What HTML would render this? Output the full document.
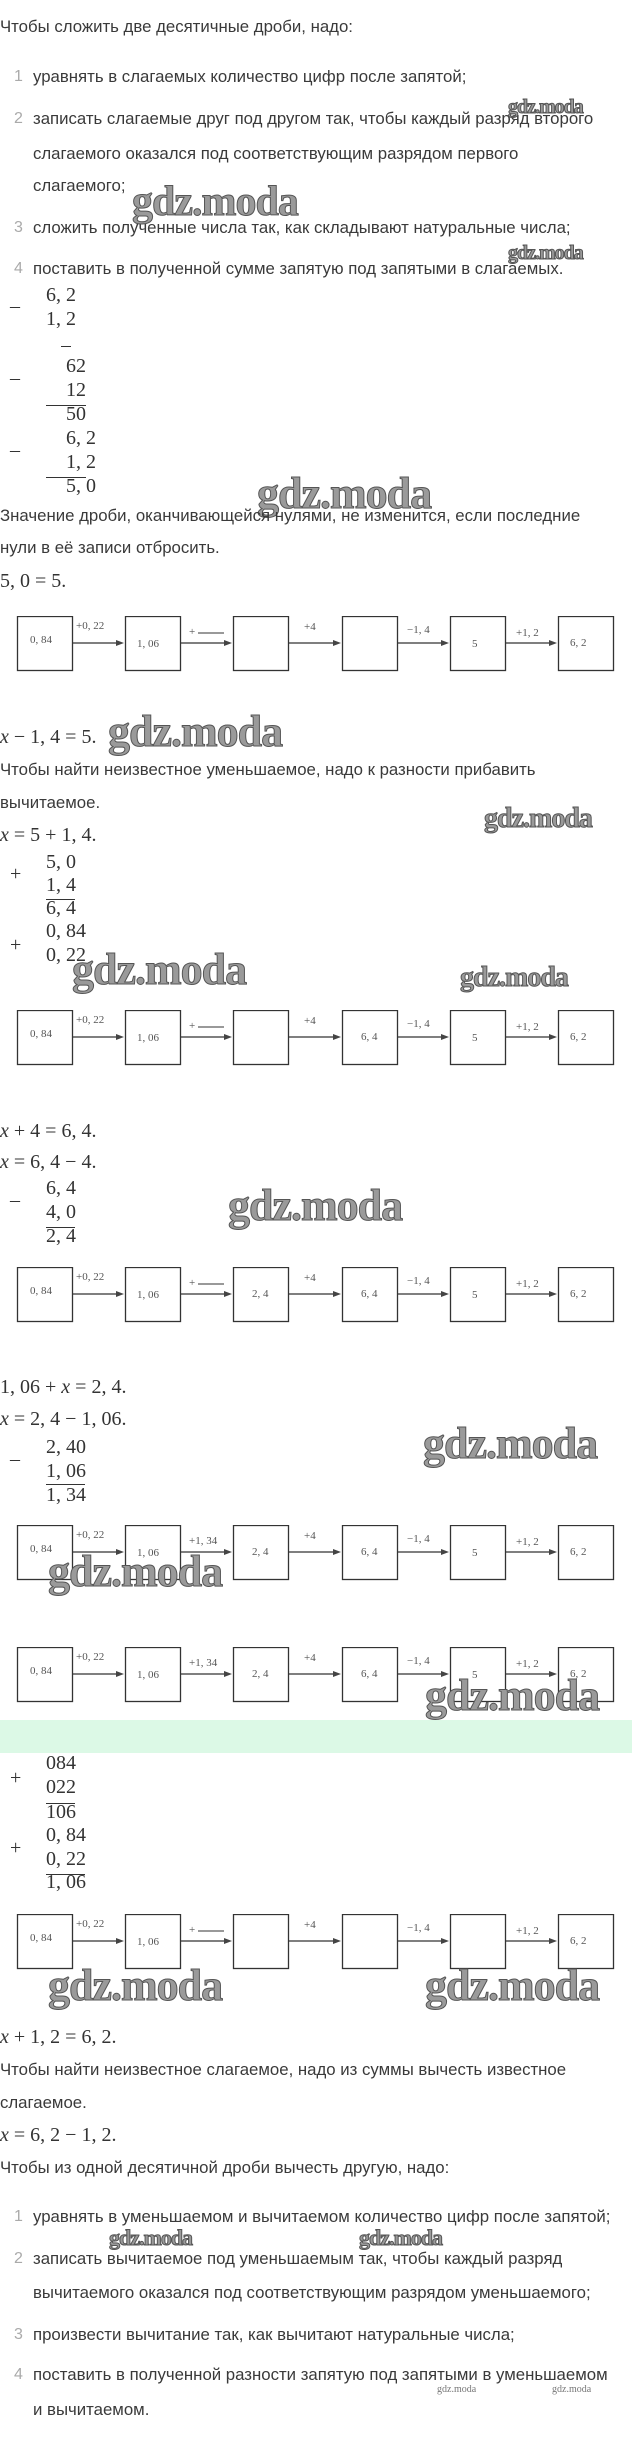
<!DOCTYPE html>
<html><head><meta charset="utf-8"><style>
body{margin:0;width:632px;height:2460px;background:#fff;position:relative;overflow:hidden;font-family:"Liberation Sans","DejaVu Sans",sans-serif;color:#3a3a3a}
.t{position:absolute;left:0;font-size:16.8px;line-height:20px;white-space:nowrap}
.li{position:absolute;left:33px;font-size:16.8px;line-height:20px;white-space:nowrap}
.n{position:absolute;left:14px;font-size:16px;line-height:20px;color:#aaa}
.m{position:absolute;font-family:"Liberation Serif",serif;font-size:20px;line-height:20px;white-space:nowrap;color:#333}
.ml{position:absolute;left:46px;height:0;border-top:1.3px solid #333}
.wm{position:absolute;font-family:"Liberation Serif",serif;font-weight:bold;color:#9a9a9a;-webkit-text-stroke:1px #555;white-space:nowrap;letter-spacing:-1px}
svg{position:absolute;left:0}
svg text{font-family:"Liberation Serif",serif;font-size:11px;fill:#555}
</style></head><body>
<div class="t" style="top:17px">Чтобы сложить две десятичные дроби, надо:</div>
<div class="n" style="top:67px">1</div><div class="li" style="top:67px">уравнять в слагаемых количество цифр после запятой;</div>
<div class="n" style="top:109px">2</div><div class="li" style="top:109px">записать слагаемые друг под другом так, чтобы каждый разряд второго</div>
<div class="li" style="top:144px">слагаемого оказался под соответствующим разрядом первого</div>
<div class="li" style="top:176px">слагаемого;</div>
<div class="n" style="top:218px">3</div><div class="li" style="top:218px">сложить полученные числа так, как складывают натуральные числа;</div>
<div class="n" style="top:259px">4</div><div class="li" style="top:259px">поставить в полученной сумме запятую под запятыми в слагаемых.</div>
<div class="wm" style="left:508px;top:96px;font-size:20px">gdz.moda</div>
<div class="wm" style="left:508px;top:242px;font-size:20px">gdz.moda</div>
<div class="wm" style="left:132px;top:178px;font-size:42px">gdz.moda</div>

<div class="m" style="left:10px;top:296px">–</div>
<div class="m" style="left:46px;top:285px">6, 2</div>
<div class="m" style="left:46px;top:309px">1, 2</div>
<div class="ml" style="left:61px;width:10px;top:346px"></div>
<div class="m" style="left:10px;top:368px">–</div>
<div class="m" style="left:66px;top:356px">62</div>
<div class="m" style="left:66px;top:380px">12</div>
<div class="ml" style="width:40px;top:405px"></div>
<div class="m" style="left:66px;top:404px">50</div>
<div class="m" style="left:10px;top:440px">–</div>
<div class="m" style="left:66px;top:428px">6, 2</div>
<div class="m" style="left:66px;top:452px">1, 2</div>
<div class="ml" style="width:40px;top:477px"></div>
<div class="m" style="left:66px;top:476px">5, 0</div>
<div class="wm" style="left:257px;top:468px;font-size:44px">gdz.moda</div>
<div class="t" style="top:506px">Значение дроби, оканчивающейся нулями, не изменится, если последние</div>
<div class="t" style="top:538px">нули в её записи отбросить.</div>
<div class="m" style="left:0;top:571px">5, 0 = 5.</div>

<!-- row 1 -->
<svg style="top:616px" width="632" height="56">
<g fill="none" stroke="#333" stroke-width="1.3"><rect x="17.5" y="0.5" width="55" height="54"/><rect x="125.5" y="0.5" width="55" height="54"/><rect x="233.5" y="0.5" width="55" height="54"/><rect x="342.5" y="0.5" width="55" height="54"/><rect x="450.5" y="0.5" width="55" height="54"/><rect x="558.5" y="0.5" width="55" height="54"/>
<path d="M73,27H120M181,27H228M289,27H337M398,27H445M506,27H553"/><path d="M198,17H224" stroke-width="1"/></g>
<path d="M116,24L124,27L116,30zM224,24L232,27L224,30zM333,24L341,27L333,30zM441,24L449,27L441,30zM549,24L557,27L549,30z" fill="#444"/>
<text x="30" y="27">0, 84</text><text x="137" y="31">1, 06</text><text x="472" y="31">5</text><text x="570" y="30">6, 2</text>
<text x="76" y="13">+0, 22</text><text x="189" y="19">+</text><text x="304" y="14">+4</text><text x="407" y="17">−1, 4</text><text x="516" y="20">+1, 2</text>
</svg>

<div class="m" style="left:0;top:727px"><i>x</i> − 1, 4 = 5.</div>
<div class="wm" style="left:108px;top:706px;font-size:44px">gdz.moda</div>
<div class="t" style="top:760px">Чтобы найти неизвестное уменьшаемое, надо к разности прибавить</div>
<div class="t" style="top:793px">вычитаемое.</div>
<div class="wm" style="left:484px;top:803px;font-size:28px">gdz.moda</div>
<div class="m" style="left:0;top:825px"><i>x</i> = 5 + 1, 4.</div>
<div class="m" style="left:10px;top:864px">+</div>
<div class="m" style="left:46px;top:852px">5, 0</div>
<div class="m" style="left:46px;top:875px">1, 4</div>
<div class="ml" style="width:29px;top:899px"></div>
<div class="m" style="left:46px;top:898px">6, 4</div>
<div class="m" style="left:10px;top:935px">+</div>
<div class="m" style="left:46px;top:921px">0, 84</div>
<div class="m" style="left:46px;top:945px">0, 22</div>
<div class="wm" style="left:72px;top:944px;font-size:44px">gdz.moda</div>
<div class="wm" style="left:460px;top:962px;font-size:28px">gdz.moda</div>

<!-- row 2 -->
<svg style="top:1010px" width="632" height="56">
<g fill="none" stroke="#333" stroke-width="1.3"><rect x="17.5" y="0.5" width="55" height="54"/><rect x="125.5" y="0.5" width="55" height="54"/><rect x="233.5" y="0.5" width="55" height="54"/><rect x="342.5" y="0.5" width="55" height="54"/><rect x="450.5" y="0.5" width="55" height="54"/><rect x="558.5" y="0.5" width="55" height="54"/>
<path d="M73,27H120M181,27H228M289,27H337M398,27H445M506,27H553"/><path d="M198,17H224" stroke-width="1"/></g>
<path d="M116,24L124,27L116,30zM224,24L232,27L224,30zM333,24L341,27L333,30zM441,24L449,27L441,30zM549,24L557,27L549,30z" fill="#444"/>
<text x="30" y="27">0, 84</text><text x="137" y="31">1, 06</text><text x="361" y="30">6, 4</text><text x="472" y="31">5</text><text x="570" y="30">6, 2</text>
<text x="76" y="13">+0, 22</text><text x="189" y="19">+</text><text x="304" y="14">+4</text><text x="407" y="17">−1, 4</text><text x="516" y="20">+1, 2</text>
</svg>

<div class="m" style="left:0;top:1121px"><i>x</i> + 4 = 6, 4.</div>
<div class="m" style="left:0;top:1152px"><i>x</i> = 6, 4 − 4.</div>
<div class="m" style="left:10px;top:1190px">–</div>
<div class="m" style="left:46px;top:1178px">6, 4</div>
<div class="m" style="left:46px;top:1202px">4, 0</div>
<div class="ml" style="width:29px;top:1227px"></div>
<div class="m" style="left:46px;top:1226px">2, 4</div>
<div class="wm" style="left:228px;top:1180px;font-size:44px">gdz.moda</div>

<!-- row 3 -->
<svg style="top:1267px" width="632" height="56">
<g fill="none" stroke="#333" stroke-width="1.3"><rect x="17.5" y="0.5" width="55" height="54"/><rect x="125.5" y="0.5" width="55" height="54"/><rect x="233.5" y="0.5" width="55" height="54"/><rect x="342.5" y="0.5" width="55" height="54"/><rect x="450.5" y="0.5" width="55" height="54"/><rect x="558.5" y="0.5" width="55" height="54"/>
<path d="M73,27H120M181,27H228M289,27H337M398,27H445M506,27H553"/><path d="M198,17H224" stroke-width="1"/></g>
<path d="M116,24L124,27L116,30zM224,24L232,27L224,30zM333,24L341,27L333,30zM441,24L449,27L441,30zM549,24L557,27L549,30z" fill="#444"/>
<text x="30" y="27">0, 84</text><text x="137" y="31">1, 06</text><text x="252" y="30">2, 4</text><text x="361" y="30">6, 4</text><text x="472" y="31">5</text><text x="570" y="30">6, 2</text>
<text x="76" y="13">+0, 22</text><text x="189" y="19">+</text><text x="304" y="14">+4</text><text x="407" y="17">−1, 4</text><text x="516" y="20">+1, 2</text>
</svg>

<div class="m" style="left:0;top:1377px">1, 06 + <i>x</i> = 2, 4.</div>
<div class="m" style="left:0;top:1409px"><i>x</i> = 2, 4 − 1, 06.</div>
<div class="m" style="left:10px;top:1449px">–</div>
<div class="m" style="left:46px;top:1437px">2, 40</div>
<div class="m" style="left:46px;top:1461px">1, 06</div>
<div class="ml" style="width:39px;top:1484px"></div>
<div class="m" style="left:46px;top:1485px">1, 34</div>
<div class="wm" style="left:423px;top:1418px;font-size:44px">gdz.moda</div>

<!-- row 4 -->
<svg style="top:1525px" width="632" height="56">
<g fill="none" stroke="#333" stroke-width="1.3"><rect x="17.5" y="0.5" width="55" height="54"/><rect x="125.5" y="0.5" width="55" height="54"/><rect x="233.5" y="0.5" width="55" height="54"/><rect x="342.5" y="0.5" width="55" height="54"/><rect x="450.5" y="0.5" width="55" height="54"/><rect x="558.5" y="0.5" width="55" height="54"/>
<path d="M73,27H120M181,27H228M289,27H337M398,27H445M506,27H553"/></g>
<path d="M116,24L124,27L116,30zM224,24L232,27L224,30zM333,24L341,27L333,30zM441,24L449,27L441,30zM549,24L557,27L549,30z" fill="#444"/>
<text x="30" y="27">0, 84</text><text x="137" y="31">1, 06</text><text x="252" y="30">2, 4</text><text x="361" y="30">6, 4</text><text x="472" y="31">5</text><text x="570" y="30">6, 2</text>
<text x="76" y="13">+0, 22</text><text x="189" y="19">+1, 34</text><text x="304" y="14">+4</text><text x="407" y="17">−1, 4</text><text x="516" y="20">+1, 2</text>
</svg>
<div class="wm" style="left:48px;top:1546px;font-size:44px">gdz.moda</div>

<!-- row 5 -->
<svg style="top:1647px" width="632" height="56">
<g fill="none" stroke="#333" stroke-width="1.3"><rect x="17.5" y="0.5" width="55" height="54"/><rect x="125.5" y="0.5" width="55" height="54"/><rect x="233.5" y="0.5" width="55" height="54"/><rect x="342.5" y="0.5" width="55" height="54"/><rect x="450.5" y="0.5" width="55" height="54"/><rect x="558.5" y="0.5" width="55" height="54"/>
<path d="M73,27H120M181,27H228M289,27H337M398,27H445M506,27H553"/></g>
<path d="M116,24L124,27L116,30zM224,24L232,27L224,30zM333,24L341,27L333,30zM441,24L449,27L441,30zM549,24L557,27L549,30z" fill="#444"/>
<text x="30" y="27">0, 84</text><text x="137" y="31">1, 06</text><text x="252" y="30">2, 4</text><text x="361" y="30">6, 4</text><text x="472" y="31">5</text><text x="570" y="30">6, 2</text>
<text x="76" y="13">+0, 22</text><text x="189" y="19">+1, 34</text><text x="304" y="14">+4</text><text x="407" y="17">−1, 4</text><text x="516" y="20">+1, 2</text>
</svg>
<div class="wm" style="left:425px;top:1670px;font-size:44px">gdz.moda</div>

<div style="position:absolute;left:0;top:1720px;width:632px;height:33px;background:#dcf9e6"></div>

<div class="m" style="left:10px;top:1768px">+</div>
<div class="m" style="left:46px;top:1753px">084</div>
<div class="m" style="left:46px;top:1777px">022</div>
<div class="ml" style="width:29px;top:1803px"></div>
<div class="m" style="left:46px;top:1802px">106</div>
<div class="m" style="left:10px;top:1838px">+</div>
<div class="m" style="left:46px;top:1825px">0, 84</div>
<div class="m" style="left:46px;top:1849px">0, 22</div>
<div class="ml" style="width:39px;top:1874px"></div>
<div class="m" style="left:46px;top:1872px">1, 06</div>

<!-- row 6 -->
<svg style="top:1914px" width="632" height="56">
<g fill="none" stroke="#333" stroke-width="1.3"><rect x="17.5" y="0.5" width="55" height="54"/><rect x="125.5" y="0.5" width="55" height="54"/><rect x="233.5" y="0.5" width="55" height="54"/><rect x="342.5" y="0.5" width="55" height="54"/><rect x="450.5" y="0.5" width="55" height="54"/><rect x="558.5" y="0.5" width="55" height="54"/>
<path d="M73,27H120M181,27H228M289,27H337M398,27H445M506,27H553"/><path d="M198,17H224" stroke-width="1"/></g>
<path d="M116,24L124,27L116,30zM224,24L232,27L224,30zM333,24L341,27L333,30zM441,24L449,27L441,30zM549,24L557,27L549,30z" fill="#444"/>
<text x="30" y="27">0, 84</text><text x="137" y="31">1, 06</text><text x="570" y="30">6, 2</text>
<text x="76" y="13">+0, 22</text><text x="189" y="19">+</text><text x="304" y="14">+4</text><text x="407" y="17">−1, 4</text><text x="516" y="20">+1, 2</text>
</svg>
<div class="wm" style="left:48px;top:1960px;font-size:44px">gdz.moda</div>
<div class="wm" style="left:425px;top:1960px;font-size:44px">gdz.moda</div>

<div class="m" style="left:0;top:2027px"><i>x</i> + 1, 2 = 6, 2.</div>
<div class="t" style="top:2060px">Чтобы найти неизвестное слагаемое, надо из суммы вычесть известное</div>
<div class="t" style="top:2093px">слагаемое.</div>
<div class="m" style="left:0;top:2125px"><i>x</i> = 6, 2 − 1, 2.</div>
<div class="t" style="top:2158px">Чтобы из одной десятичной дроби вычесть другую, надо:</div>
<div class="n" style="top:2207px">1</div><div class="li" style="top:2207px">уравнять в уменьшаемом и вычитаемом количество цифр после запятой;</div>
<div class="wm" style="left:109px;top:2225px;font-size:22px">gdz.moda</div>
<div class="wm" style="left:359px;top:2225px;font-size:22px">gdz.moda</div>
<div class="n" style="top:2249px">2</div><div class="li" style="top:2249px">записать вычитаемое под уменьшаемым так, чтобы каждый разряд</div>
<div class="li" style="top:2283px">вычитаемого оказался под соответствующим разрядом уменьшаемого;</div>
<div class="n" style="top:2325px">3</div><div class="li" style="top:2325px">произвести вычитание так, как вычитают натуральные числа;</div>
<div class="n" style="top:2365px">4</div><div class="li" style="top:2365px">поставить в полученной разности запятую под запятыми в уменьшаемом</div>
<div style="position:absolute;left:437px;top:2384px;font-family:'Liberation Serif',serif;font-size:10px;color:#777">gdz.moda</div>
<div style="position:absolute;left:552px;top:2384px;font-family:'Liberation Serif',serif;font-size:10px;color:#777">gdz.moda</div>
<div class="li" style="top:2400px">и вычитаемом.</div>
</body></html>
